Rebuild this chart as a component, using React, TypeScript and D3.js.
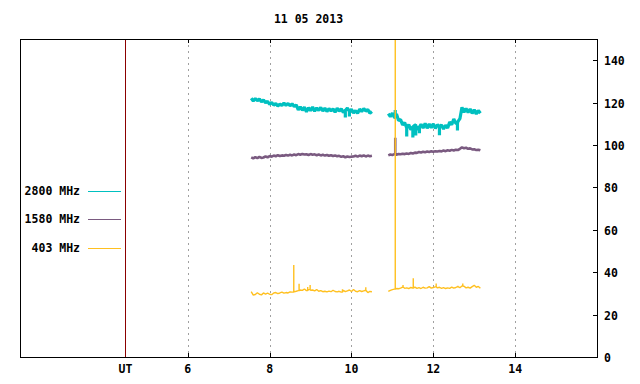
import React, { useEffect, useRef } from 'react'
import * as d3 from 'd3'

// sampling: every 0.05 h from the segment start
const seg1Start = 7.55
const seg2Start = 10.9
const step = 0.05

const freqLabels = ['2800 MHz', '1580 MHz', '403 MHz']
const colors = ['#00c0c0', '#7a5a80', '#ffc020']
const widths = [3.2, 2.6, 1.4]

const cyan1 = [
  122.0, 120.8, 121.9, 120.9, 121.7, 120.4, 121.2, 119.9, 120.6, 119.2,
  120.1, 118.8, 119.6, 118.4, 119.3, 118.6, 119.8, 118.7, 119.6, 118.5,
  119.4, 118.2, 118.9, 116.6, 118.0, 116.4, 117.8, 115.6, 117.6, 116.2,
  117.9, 115.9, 117.5, 116.3, 117.7, 116.0, 117.4, 115.8, 117.2, 116.1,
  117.0, 115.5, 117.3, 116.0, 117.1, 115.4, 116.3, 117.4, 115.8, 116.8,
  115.1, 116.2, 115.0, 116.9, 115.8, 117.2, 116.0, 116.7, 115.0, 115.8,
]
const cyan2 = [
  114.8, 113.4, 115.0, 113.0, 114.6, 111.6, 112.0, 109.5, 110.6, 108.0,
  109.6, 107.2, 108.5, 109.4, 107.3, 108.5, 109.8, 108.0, 110.2, 107.9,
  109.9, 108.1, 110.0, 107.8, 109.6, 108.6, 109.4, 107.6, 109.3, 108.0,
  110.8, 109.6, 112.3, 110.2, 111.0, 112.4, 117.8, 115.5, 117.2, 115.3,
  117.0, 114.9, 116.6, 114.6, 116.3, 115.0,
]
const purple1 = [
  94.2, 93.7, 94.3, 93.8, 94.4, 93.9, 94.1, 94.6, 94.2, 94.8,
  94.5, 95.0, 94.7, 95.2, 94.8, 95.1, 94.9, 95.3, 95.0, 95.4,
  95.1, 95.5, 95.2, 95.7, 95.4, 95.8, 95.5, 95.6, 95.3, 95.7,
  95.4, 95.6, 95.2, 95.5, 95.1, 95.4, 95.0, 95.3, 94.9, 95.2,
  94.8, 95.1, 94.7, 94.9, 94.4, 94.7, 94.2, 94.6, 94.3, 94.5,
  94.6, 94.9, 94.5, 95.0, 94.7, 95.1, 94.6, 95.0, 94.7, 94.9,
]
const purple2 = [
  95.1, 95.5, 95.3, 95.7, 95.4, 95.8, 95.6, 95.9, 95.7, 96.0,
  95.8, 96.2, 96.0, 96.4, 96.3, 96.7, 96.5, 96.8, 96.6, 96.9,
  96.7, 97.0, 96.8, 97.1, 96.9, 97.2, 97.0, 97.4, 97.1, 97.5,
  97.3, 97.7, 97.4, 97.8, 97.6, 98.2, 98.9, 98.5, 98.7, 98.2,
  98.4, 97.9, 98.0, 97.6, 97.8, 97.5,
]
const orange1 = [
  30.8, 29.2, 29.5, 30.3, 29.6, 29.3, 30.2, 29.7, 30.1, 29.6,
  29.4, 30.2, 30.4, 29.9, 30.2, 30.6, 30.1, 30.4, 30.2, 30.7,
  30.6, 30.8, 31.0, 31.3, 31.6, 31.4, 32.1, 31.3, 31.8, 31.5,
  31.6, 31.2, 31.8, 31.0, 31.3, 30.8, 31.0, 30.7, 31.1, 30.8,
  31.5, 30.9, 30.7, 31.0, 30.6, 31.4, 30.8, 31.2, 31.6, 30.9,
  31.8, 31.0, 30.8, 31.3, 30.9, 31.2, 31.5, 30.4, 30.9, 30.8,
]
const orange2 = [
  30.9, 31.4, 31.8, 32.0, 32.3, 32.2, 32.5, 33.0, 32.4, 32.6,
  32.3, 32.8, 32.5, 33.0, 32.4, 32.7, 32.3, 32.9, 32.5, 32.6,
  33.2, 32.5, 32.8, 33.1, 32.6, 32.9, 32.4, 32.7, 32.3, 32.6,
  32.4, 33.0, 32.5, 32.8, 33.2, 32.7, 33.5, 33.4, 32.6, 32.9,
  32.5, 33.2, 33.8, 32.9, 33.3, 32.4,
]
// single-sample spikes [hour, value]
const cyanSpikes = [
  [9.85, 113.0], [9.95, 113.4], [11.07, 116.5], [11.35, 104.0],
  [11.5, 103.5], [11.57, 104.5], [11.66, 105.5], [12.15, 104.6], [12.59, 106.8],
]
const purpleSpikes = [[11.07, 103.4]]
const orangeSpikes = [
  [8.59, 43.4], [8.72, 34.6], [8.93, 33.0], [8.99, 34.0], [9.78, 31.9],
  [10.35, 32.9], [11.07, 400], [11.26, 34.0], [11.51, 37.1], [12.07, 34.7],
  [12.6, 33.6], [12.72, 34.7],
]

const xTicks = [6, 8, 10, 12, 14]
const yTicks = [0, 20, 40, 60, 80, 100, 120, 140]
const utHour = 4.46

// sample points, with each spike as a vertical stroke from the running level
const toPoints = (start, vals, spikes) => {
  const pts = vals.map((v, i) => [start + i * step, v])
  const end = start + (vals.length - 1) * step
  spikes
    .filter((s) => s[0] >= start && s[0] <= end)
    .forEach((s) => {
      const base = vals[Math.floor((s[0] - start) / step + 1e-6)]
      pts.push([s[0], base], [s[0] + 1e-4, s[1]], [s[0] + 2e-4, base])
    })
  return pts.sort((a, b) => a[0] - b[0])
}

const App = () => {
  const svgRef = useRef()

  useEffect(() => {
    const svg = d3.select(svgRef.current)
    svg.selectAll('*').remove()

    const left = 20
    const right = 597
    const top = 39
    const bottom = 357
    const font = "'DejaVu Sans Mono', monospace"

    const x = d3.scaleLinear().domain([1.9, 16]).range([left, right])
    const y = d3.scaleLinear().domain([0, 150]).range([bottom, top])

    svg
      .append('defs')
      .append('clipPath')
      .attr('id', 'plot')
      .append('rect')
      .attr('x', left)
      .attr('y', top)
      .attr('width', right - left)
      .attr('height', bottom - top)

    // dashed grid at hour ticks
    svg
      .selectAll('line.grid')
      .data(xTicks)
      .enter()
      .append('line')
      .attr('x1', (d) => Math.round(x(d)) + 0.5)
      .attr('x2', (d) => Math.round(x(d)) + 0.5)
      .attr('y1', top)
      .attr('y2', bottom)
      .attr('stroke', '#a0a0a0')
      .attr('stroke-dasharray', '2,4')

    // tick marks top and bottom
    xTicks.forEach((t) => {
      const px = Math.round(x(t)) + 0.5
      svg.append('line').attr('x1', px).attr('x2', px).attr('y1', bottom).attr('y2', bottom - 4).attr('stroke', '#000')
      svg.append('line').attr('x1', px).attr('x2', px).attr('y1', top).attr('y2', top + 4).attr('stroke', '#000')
    })

    // UT marker
    const ux = Math.round(x(utHour)) + 0.5
    svg
      .append('line')
      .attr('x1', ux)
      .attr('x2', ux)
      .attr('y1', top)
      .attr('y2', bottom)
      .attr('stroke', '#8b0000')

    // right y ticks
    yTicks.forEach((t) => {
      const py = Math.round(y(t)) + 0.5
      svg.append('line').attr('x1', right).attr('x2', right - 4).attr('y1', py).attr('y2', py).attr('stroke', '#000')
      svg
        .append('text')
        .attr('x', right + 7)
        .attr('y', py)
        .attr('dy', '0.35em')
        .attr('font-family', font)
        .attr('font-weight', 'bold')
        .attr('font-size', 11.5)
        .text(t)
    })

    // x labels
    xTicks.forEach((t) => {
      svg
        .append('text')
        .attr('x', x(t))
        .attr('y', 373)
        .attr('text-anchor', 'middle')
        .attr('font-family', font)
        .attr('font-weight', 'bold')
        .attr('font-size', 11.5)
        .text(t)
    })
    svg
      .append('text')
      .attr('x', ux)
      .attr('y', 373)
      .attr('text-anchor', 'middle')
      .attr('font-family', font)
      .attr('font-weight', 'bold')
      .attr('font-size', 11.5)
      .text('UT')

    // series
    const series = [
      [toPoints(seg1Start, cyan1, cyanSpikes), toPoints(seg2Start, cyan2, cyanSpikes)],
      [toPoints(seg1Start, purple1, purpleSpikes), toPoints(seg2Start, purple2, purpleSpikes)],
      [toPoints(seg1Start, orange1, orangeSpikes), toPoints(seg2Start, orange2, orangeSpikes)],
    ]
    const line = d3
      .line()
      .x((d) => x(d[0]))
      .y((d) => y(d[1]))

    const g = svg.append('g').attr('clip-path', 'url(#plot)')
    series.forEach((segs, i) => {
      segs.forEach((pts) => {
        g.append('path')
          .attr('d', line(pts))
          .attr('fill', 'none')
          .attr('stroke', colors[i])
          .attr('stroke-width', widths[i])
          .attr('stroke-linejoin', 'bevel')
      })
    })

    // legend
    const legendY = [191, 219, 248]
    freqLabels.forEach((lab, i) => {
      svg
        .append('text')
        .attr('x', 80)
        .attr('y', legendY[i])
        .attr('dy', '0.35em')
        .attr('text-anchor', 'end')
        .attr('font-family', font)
        .attr('font-weight', 'bold')
        .attr('font-size', 11.5)
        .text(lab)
      svg
        .append('line')
        .attr('x1', 88)
        .attr('x2', 121)
        .attr('y1', legendY[i] + 0.5)
        .attr('y2', legendY[i] + 0.5)
        .attr('stroke', colors[i])
    })

    // frame
    svg
      .append('rect')
      .attr('x', left + 0.5)
      .attr('y', top + 0.5)
      .attr('width', right - left)
      .attr('height', bottom - top)
      .attr('fill', 'none')
      .attr('stroke', '#000')

    // title
    svg
      .append('text')
      .attr('x', (left + right) / 2)
      .attr('y', 23)
      .attr('text-anchor', 'middle')
      .attr('font-family', font)
      .attr('font-weight', 'bold')
      .attr('font-size', 11.5)
      .text('11 05 2013')
  }, [])

  return (
    <svg
      ref={svgRef}
      width={640}
      height={384}
      style={{ position: 'absolute', left: 0, top: 0, background: '#fff' }}
    ></svg>
  )
}

export default App
